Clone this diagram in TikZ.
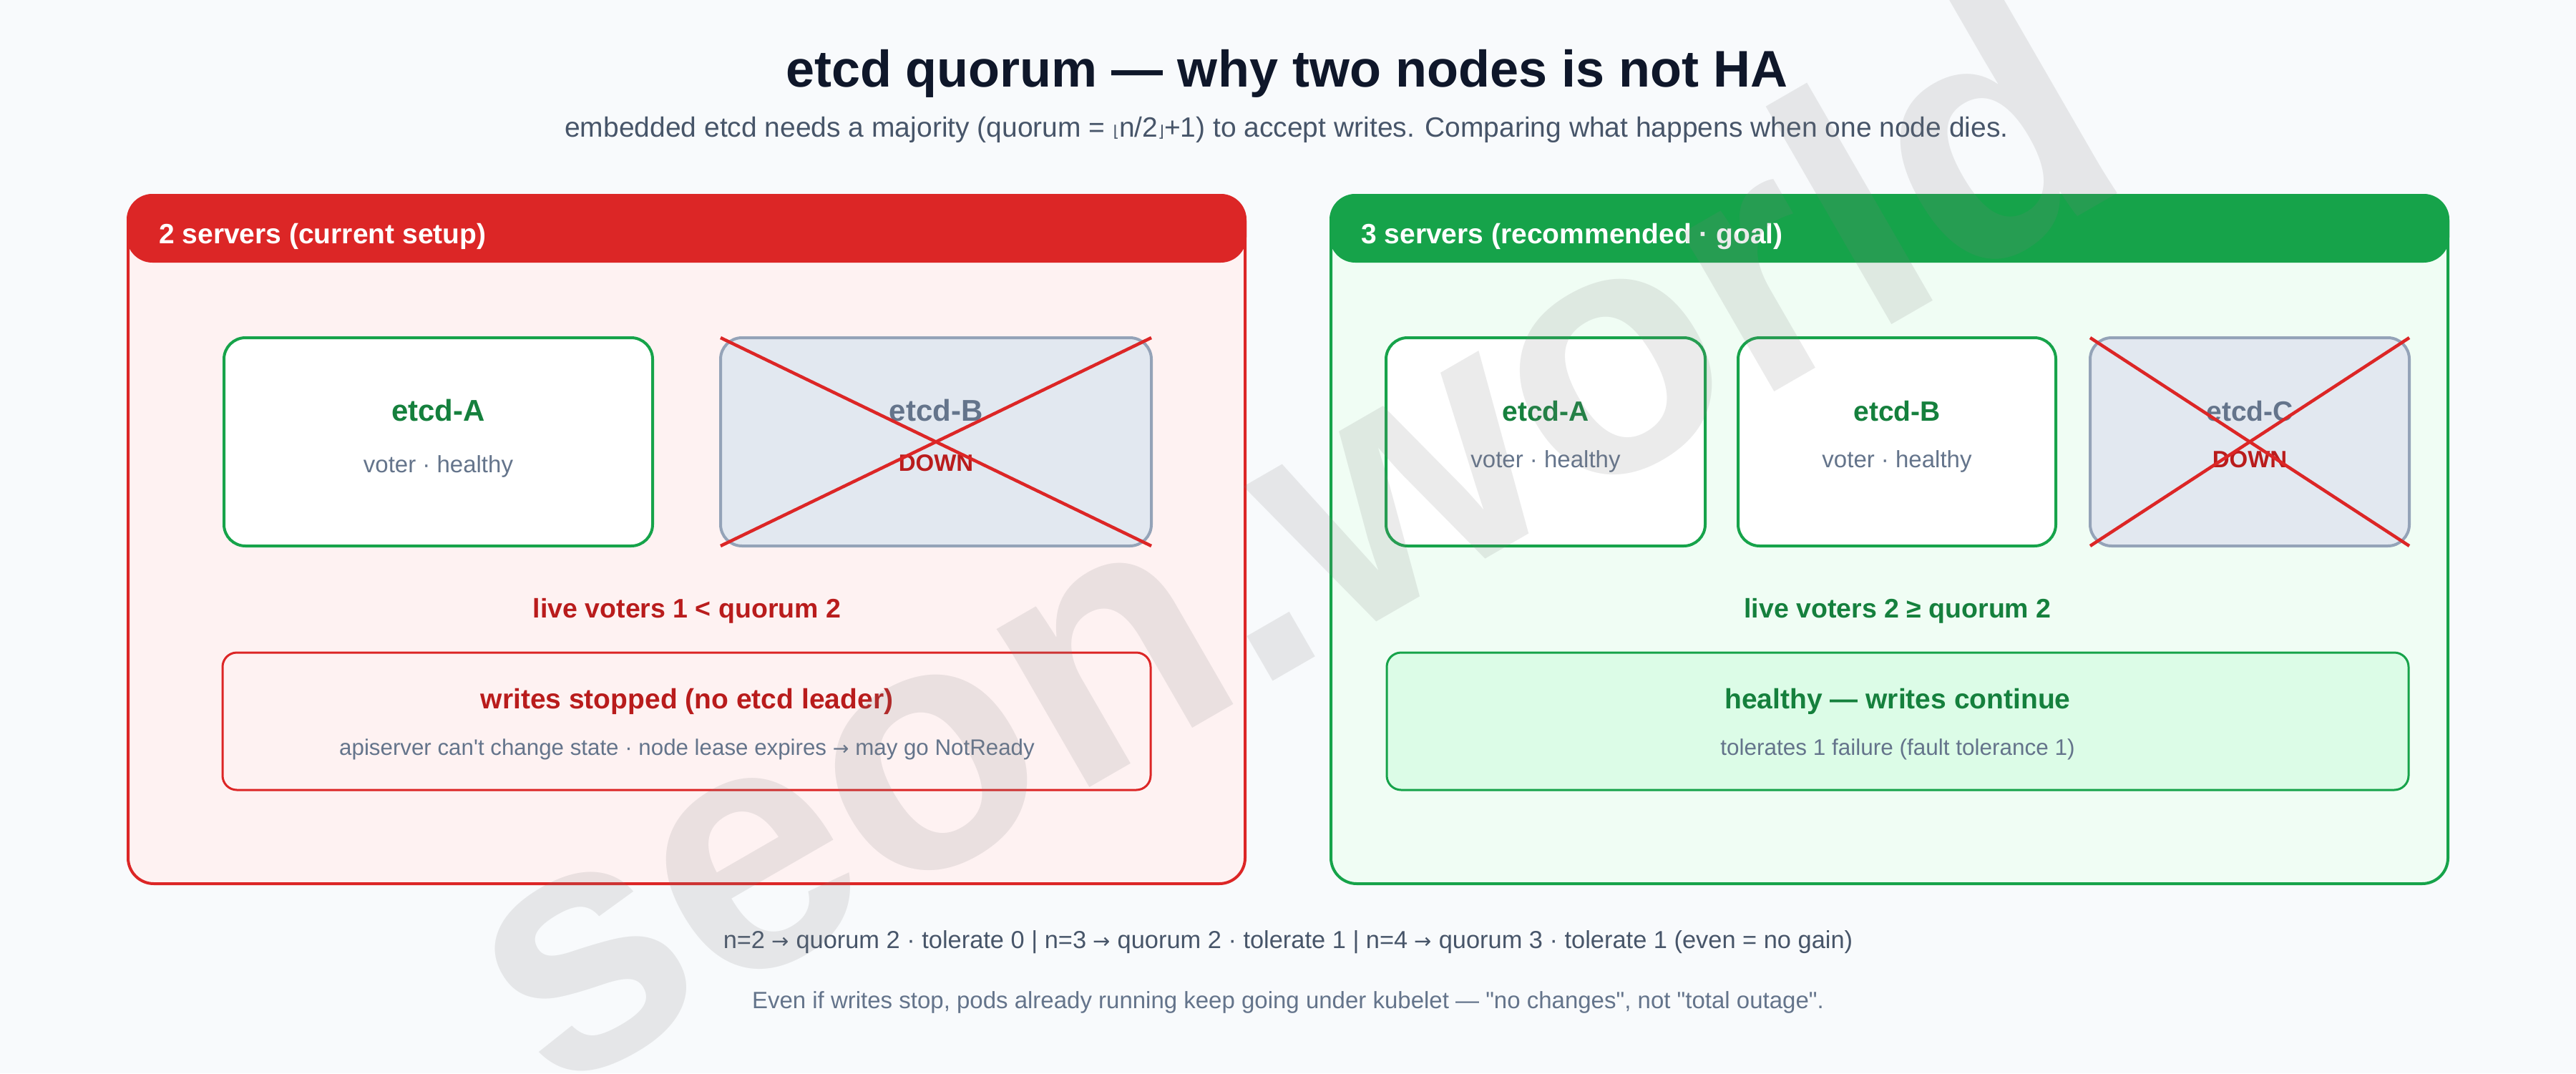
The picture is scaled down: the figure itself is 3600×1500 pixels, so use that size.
\documentclass[tikz,border=0pt]{standalone}
\usepackage{fontspec}
\setmainfont{Liberation Sans}[Ligatures=TeXOff]
\newfontfamily\djv{DejaVu Sans}
\definecolor{bg}{HTML}{F8FAFC}
\definecolor{ink}{HTML}{0F172A}
\definecolor{sub}{HTML}{475569}
\definecolor{muted}{HTML}{64748B}
\definecolor{redD}{HTML}{DC2626}
\definecolor{redT}{HTML}{B91C1C}
\definecolor{redBg}{HTML}{FEF2F2}
\definecolor{grnD}{HTML}{16A34A}
\definecolor{grnT}{HTML}{15803D}
\definecolor{grnBg}{HTML}{F0FDF4}
\definecolor{grnBox}{HTML}{DCFCE7}
\definecolor{deadFill}{HTML}{E2E8F0}
\definecolor{deadLine}{HTML}{94A3B8}
\definecolor{wmark}{RGB}{128,128,128}
\newcommand{\fs}[1]{\fontsize{#1}{#1}\selectfont}
\newcommand{\arr}[1]{{\djv\fs{#1}→}}
\tikzset{
  panel/.style={draw, line width=4pt, rounded corners=36pt, inner sep=0pt, outer sep=0pt},
  hdr/.style={draw, line width=4pt, rounded corners=34pt, inner sep=0pt, outer sep=0pt},
  hdrtext/.style={anchor=base west, inner sep=0pt, text=white, font=\fs{39}\bfseries},
  livebox/.style={draw=grnD, fill=white, line width=4pt, rounded corners=30pt, inner sep=0pt, outer sep=0pt, minimum height=291pt},
  deadbox/.style={draw=deadLine, fill=deadFill, line width=4pt, rounded corners=30pt, inner sep=0pt, outer sep=0pt, minimum height=291pt},
  cross/.style={draw=redD, line width=4.5pt},
  lbl/.style={anchor=base, inner sep=0pt},
  resbox/.style={line width=3pt, rounded corners=20pt, inner sep=0pt, outer sep=0pt, minimum height=192pt},
}
\begin{document}
\begin{tikzpicture}[x=1pt, y=-1pt]
\useasboundingbox (0,0) rectangle (3600,1500);
\fill[bg] (0,0) rectangle (3600,1500);

% title
\node[lbl, text=ink, font=\fs{72}\bfseries] (title) at (1798,121) {etcd quorum — why two nodes is not HA};
\node[lbl, text=sub, font=\fs{39}] (subtitle) at (1798,191) {embedded etcd needs a majority (quorum = {\djv\fs{22}⌊}n/2{\djv\fs{22}⌋}+1) to accept writes. Comparing what happens when one node dies.};

% left panel
\node[panel, draw=redD, fill=redBg, minimum width=1561pt, minimum height=962pt] (pL) at (959.5,754) {};
\node[hdr, draw=redD, fill=redD, minimum width=1561pt, minimum height=92pt] (hL) at (959.5,319) {};
\node[hdrtext] (hLt) at (222,340) {2 servers (current setup)};

\node[livebox, minimum width=599pt] (lA) at (612.5,617.5) {};
\node[lbl, text=grnT, font=\fs{42}\bfseries] (lAt) at (612.5,588) {etcd-A};
\node[lbl, text=muted, font=\fs{33}] (lAs) at (612.5,660) {voter · healthy};

\node[deadbox, minimum width=602pt] (lB) at (1308,617.5) {};
\node[lbl, text=muted, font=\fs{42}\bfseries] (lBt) at (1308,588) {etcd-B};
\node[lbl, text=redT, font=\fs{33}\bfseries] (lBs) at (1308,658) {DOWN};
\draw[cross] (lB.north west) -- (lB.south east);
\draw[cross] (lB.south west) -- (lB.north east);

\node[lbl, text=redT, font=\fs{37.5}\bfseries] (lQ) at (960,863) {live voters 1 < quorum 2};

\node[resbox, draw=redD, fill=redBg, minimum width=1297pt] (lR) at (959.5,1008) {};
\node[lbl, text=redT, font=\fs{39}\bfseries] (lRt) at (960,990) {writes stopped (no etcd leader)};
\node[lbl, text=muted, font=\fs{31.3}] (lRs) at (960,1055) {apiserver can't change state · node lease expires \arr{27} may go NotReady};

% right panel
\node[panel, draw=grnD, fill=grnBg, minimum width=1561pt, minimum height=962pt] (pR) at (2640.5,754) {};
\node[hdr, draw=grnD, fill=grnD, minimum width=1561pt, minimum height=92pt] (hR) at (2640.5,319) {};
\node[hdrtext] (hRt) at (1902,340) {3 servers (recommended · goal)};

\node[livebox, minimum width=446pt] (rA) at (2160,617.5) {};
\node[lbl, text=grnT, font=\fs{39}\bfseries] (rAt) at (2160,588) {etcd-A};
\node[lbl, text=muted, font=\fs{33}] (rAs) at (2160,653) {voter · healthy};

\node[livebox, minimum width=444pt] (rB) at (2651,617.5) {};
\node[lbl, text=grnT, font=\fs{39}\bfseries] (rBt) at (2651,588) {etcd-B};
\node[lbl, text=muted, font=\fs{33}] (rBs) at (2651,653) {voter · healthy};

\node[deadbox, minimum width=446pt] (rC) at (3144,617.5) {};
\node[lbl, text=muted, font=\fs{39}\bfseries] (rCt) at (3144,588) {etcd-C};
\node[lbl, text=redT, font=\fs{33}\bfseries] (rCs) at (3144,653) {DOWN};
\draw[cross] (rC.north west) -- (rC.south east);
\draw[cross] (rC.south west) -- (rC.north east);

\node[lbl, text=grnT, font=\fs{37.5}\bfseries] (rQ) at (2652,863) {live voters 2 ≥ quorum 2};

\node[resbox, draw=grnD, fill=grnBox, minimum width=1428pt] (rR) at (2652,1008) {};
\node[lbl, text=grnT, font=\fs{39}\bfseries] (rRt) at (2652,990) {healthy — writes continue};
\node[lbl, text=muted, font=\fs{31.5}] (rRs) at (2652,1055) {tolerates 1 failure (fault tolerance 1)};

% footer
\node[lbl, text=sub, font=\fs{34.4}] (f1) at (1800,1325) {n=2 \arr{29} quorum 2 · tolerate 0 | n=3 \arr{29} quorum 2 · tolerate 1 | n=4 \arr{29} quorum 3 · tolerate 1 (even = no gain)};
\node[lbl, text=muted, font=\fs{33}] (f2) at (1800,1409) {Even if writes stop, pods already running keep going under kubelet — "no changes", not "total outage".};

% watermark
\begin{scope}
\clip (0,0) rectangle (3600,1500);
\node[rotate=30, anchor=base west, inner sep=0pt, text=wmark, text opacity=0.158, font=\fs{485}\bfseries] (wm) at (770,1535) {seon.world};
\end{scope}
\end{tikzpicture}
\end{document}
